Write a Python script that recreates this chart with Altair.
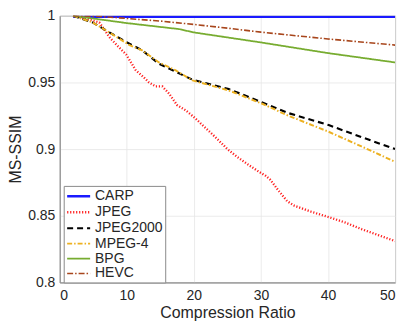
import altair as alt
import pandas as pd

series_names = ["CARP", "JPEG", "JPEG2000", "MPEG-4", "BPG", "HEVC"]
colors = ["#1a1aff", "#ff2020", "#000000", "#edb120", "#77ac30", "#a8461c"]
dashes = [[1, 0], [1.2, 1.8], [6, 4], [5, 2, 1.5, 2], [1, 0], [6, 2, 1.5, 2]]
widths = [2.5, 1.6, 1.8, 1.6, 1.6, 1.6]

carp_x = [2, 10, 20, 30, 40, 50]
carp_y = [0.9993, 0.9993, 0.9993, 0.9993, 0.9993, 0.9993]

jpeg_x = [2, 4, 5.9, 7.4, 8.5, 9.9, 11.35, 12.5, 13.3, 14.3, 15.3, 16.3, 17.5, 18.8, 20,
          21.5, 23.2, 25, 26.5, 28.2, 29.7, 30.7, 31.4, 32.6, 33.9, 35, 37.5, 40.1, 42.5, 45, 47.5, 50]
jpeg_y = [1.0, 0.998, 0.995, 0.984, 0.978, 0.971, 0.959, 0.954, 0.950, 0.947, 0.947, 0.9416, 0.933, 0.929, 0.924,
          0.917, 0.909, 0.900, 0.894, 0.888, 0.883, 0.880, 0.877, 0.869, 0.861, 0.8575, 0.853, 0.849, 0.845, 0.840, 0.8355, 0.831]

j2k_x = [2, 4.9, 7.4, 10.4, 12.3, 14.8, 17.3, 19.8, 25.2, 30.2, 34.1, 40.1, 45, 50]
j2k_y = [1.0, 0.995, 0.9875, 0.979, 0.974, 0.964, 0.958, 0.952, 0.945, 0.935, 0.927, 0.918, 0.909, 0.900]

mpeg_x = [2, 4.9, 7.4, 10.4, 12.3, 14.8, 17.3, 19.8, 25.2, 30.2, 34.1, 40.1, 45, 50]
mpeg_y = [1.0, 0.995, 0.9875, 0.978, 0.974, 0.965, 0.959, 0.9515, 0.944, 0.934, 0.925, 0.913, 0.902, 0.8905]

bpg_x = [2, 10, 17.8, 20, 30, 40, 50]
bpg_y = [1.0, 0.9945, 0.990, 0.9875, 0.980, 0.972, 0.965]

hevc_x = [2, 6, 10, 15, 20, 25, 30, 40, 50]
hevc_y = [1.0, 0.9995, 0.998, 0.996, 0.9935, 0.9907, 0.9877, 0.9826, 0.978]

xs = [carp_x, jpeg_x, j2k_x, mpeg_x, bpg_x, hevc_x]
ys = [carp_y, jpeg_y, j2k_y, mpeg_y, bpg_y, hevc_y]

rows = []
for name, xv, yv in zip(series_names, xs, ys):
    for i, (a, b) in enumerate(zip(xv, yv)):
        rows.append({"series": name, "x": a, "y": b, "order": i})
df = pd.DataFrame(rows)

font = "Liberation Sans"

leg = alt.Legend(title=None, orient="none", legendX=4, legendY=171)

chart = alt.Chart(df).mark_line(clip=True).encode(
    x=alt.X("x:Q", title="Compression Ratio",
            scale=alt.Scale(domain=[0, 50], nice=False),
            axis=alt.Axis(values=[0, 10, 20, 30, 40, 50], format="d")),
    y=alt.Y("y:Q", title="MS-SSIM",
            scale=alt.Scale(domain=[0.8, 1.0], nice=False, zero=False),
            axis=alt.Axis(values=[0.8, 0.85, 0.9, 0.95, 1.0], format="~g")),
    color=alt.Color("series:N", scale=alt.Scale(domain=series_names, range=colors), legend=leg),
    strokeDash=alt.StrokeDash("series:N", scale=alt.Scale(domain=series_names, range=dashes), legend=leg),
    strokeWidth=alt.StrokeWidth("series:N", scale=alt.Scale(domain=series_names, range=widths), legend=None),
    order="order:Q",
    detail="series:N",
).properties(
    width=337, height=268,
    autosize=alt.AutoSizeParams(type="none"),
    padding={"left": 52, "top": 7, "right": 12, "bottom": 44},
).configure_view(
    stroke="#8a8a8a", strokeWidth=1
).configure_axis(
    grid=True, gridColor="#e6e6e6", gridWidth=0.8,
    domainColor="#8a8a8a", ticks=False,
    labelFont=font, labelFontSize=14, labelColor="#262626",
    titleFont=font, titleFontSize=16, titleFontWeight="normal", titleColor="#262626",
).configure_axisX(
    labelPadding=6, titlePadding=2,
).configure_axisY(
    labelPadding=5, titlePadding=4,
).configure_legend(
    labelFont=font, labelFontSize=14, labelColor="#262626",
    symbolType="M-1.65,0H1.65", symbolSize=196, symbolStrokeWidth=1.6,
    strokeColor="#8a8a8a", fillColor="white", padding=2, rowPadding=-0.2,
    labelOffset=8, symbolOffset=4.5,
)

chart.save("out.html", embed_options={"renderer": "svg", "actions": False})
